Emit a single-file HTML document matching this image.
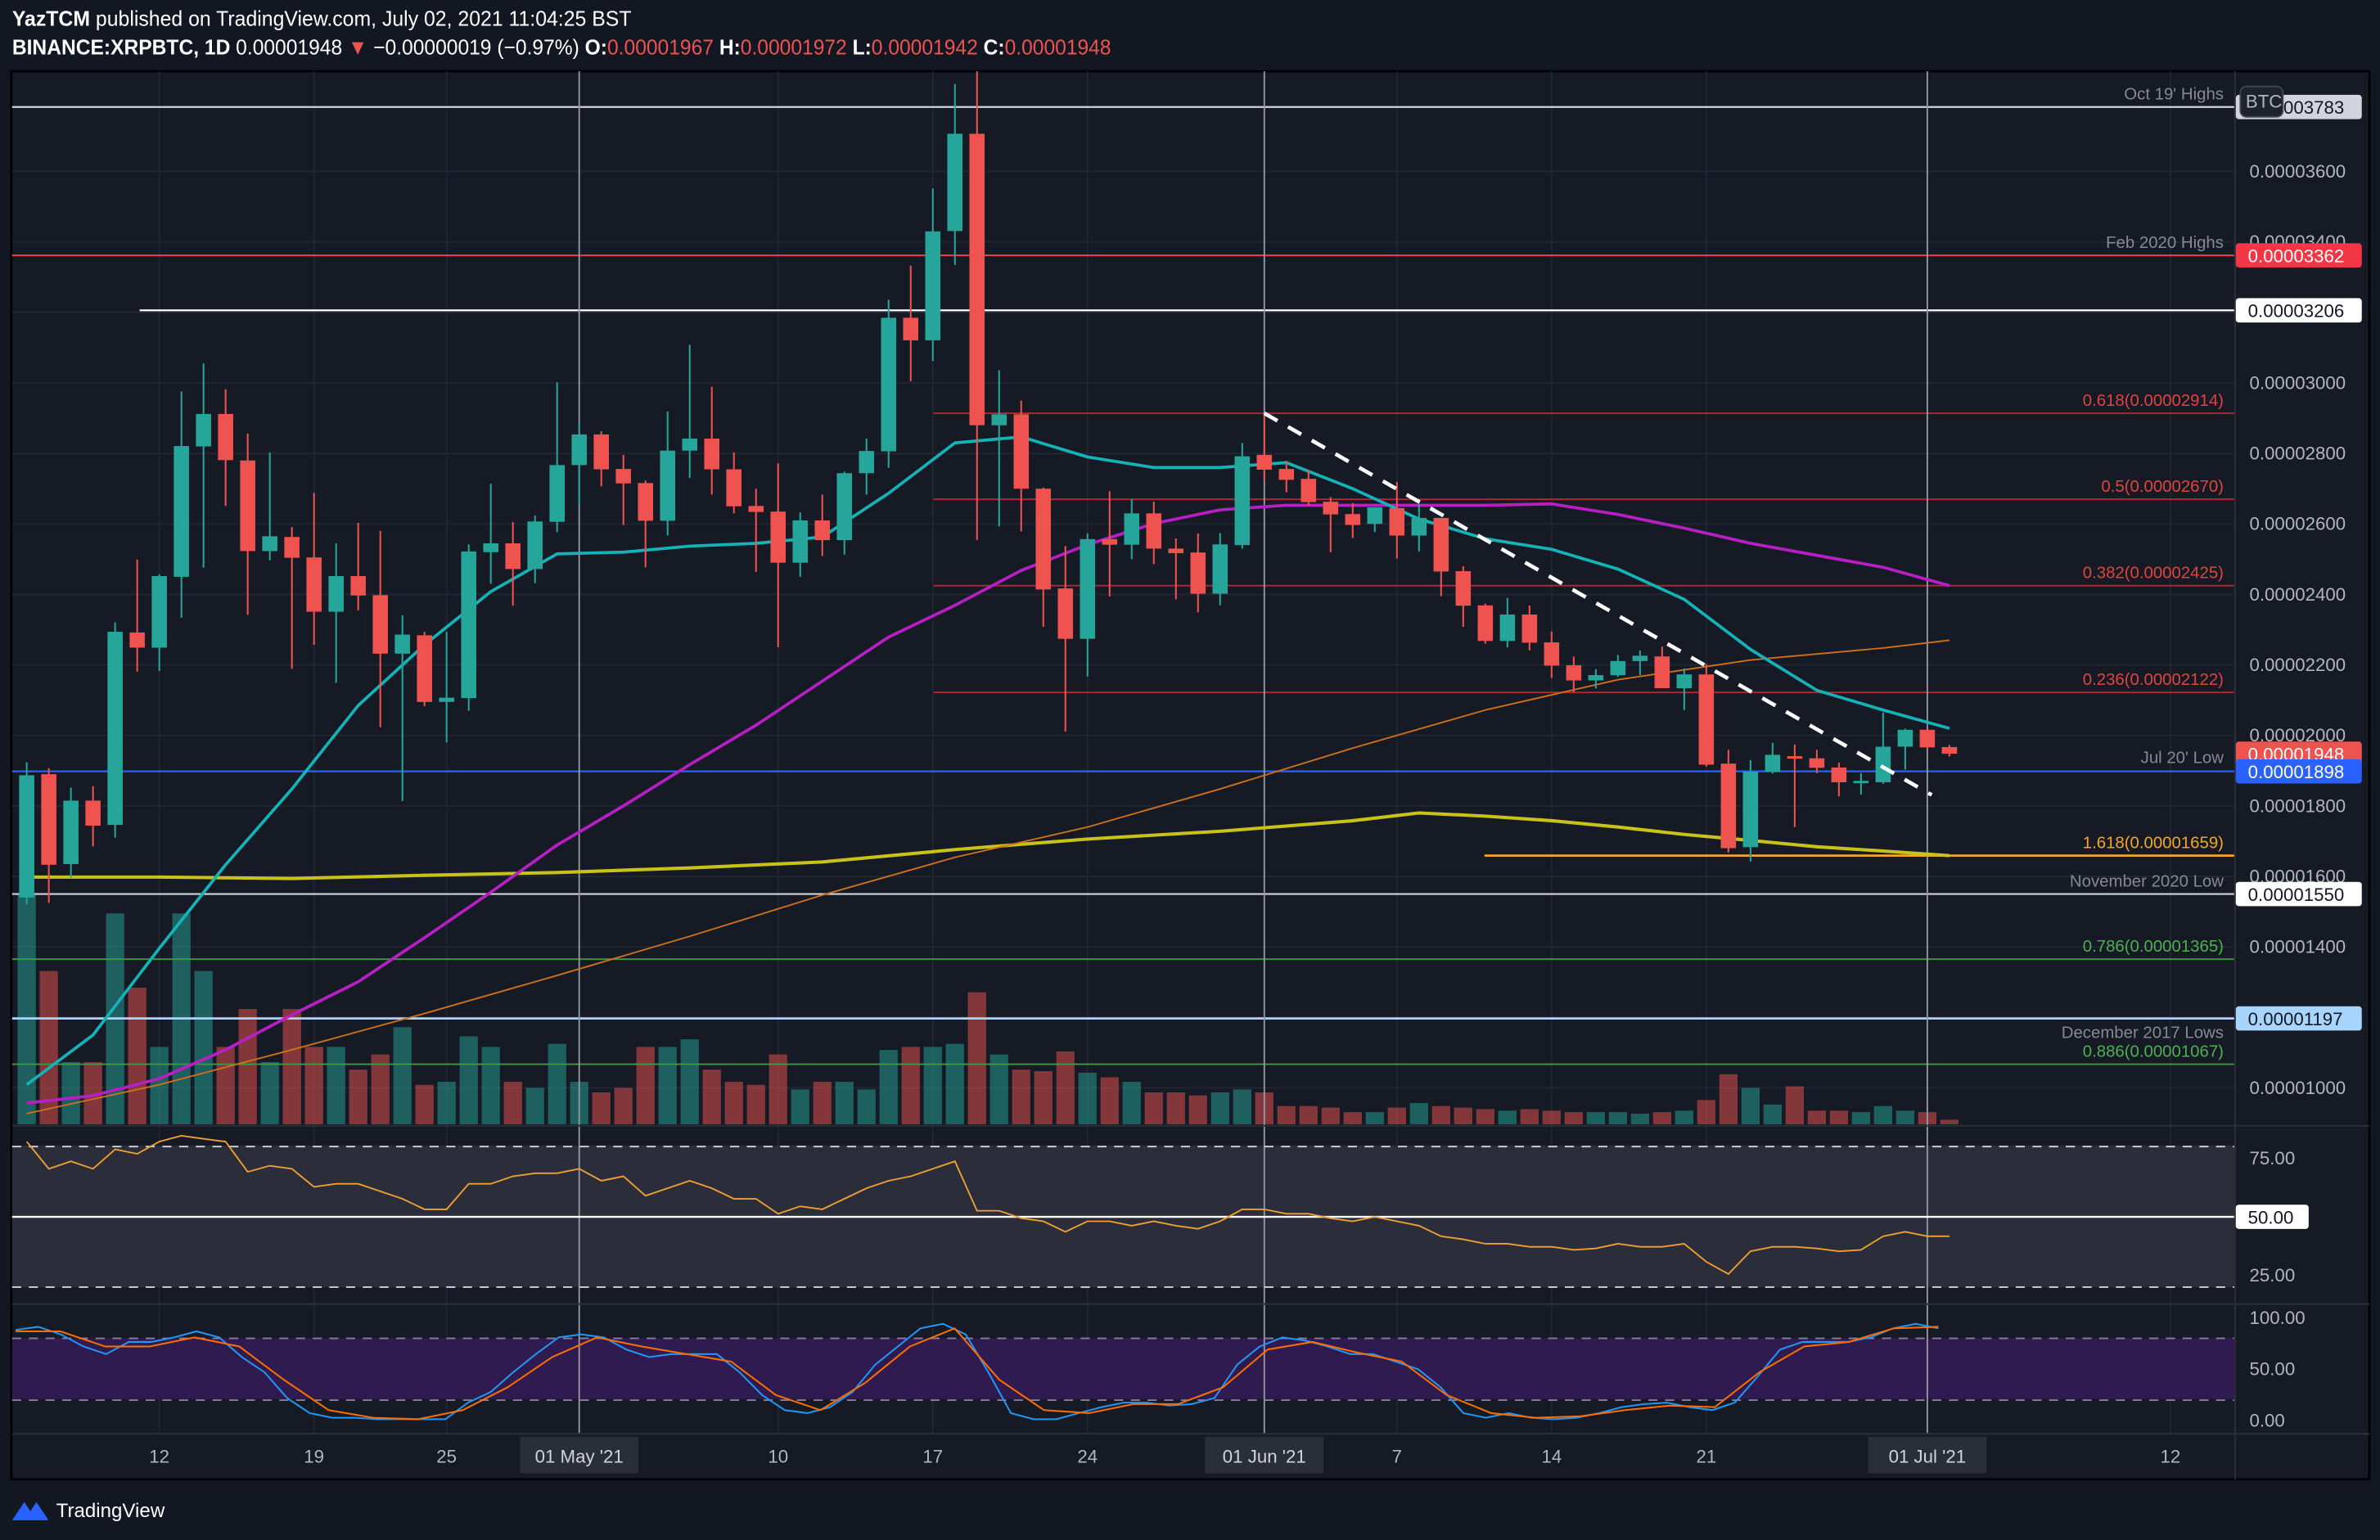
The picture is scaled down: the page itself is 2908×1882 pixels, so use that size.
<!DOCTYPE html>
<html><head><meta charset="utf-8"><title>XRPBTC 1D chart</title>
<style>
html,body{margin:0;padding:0;background:#131722;}
svg{display:block;}
text{font-family:"Liberation Sans",sans-serif;}
</style></head>
<body>
<svg id="chart" width="2908" height="1882" viewBox="0 0 1568 1015" preserveAspectRatio="none" xmlns="http://www.w3.org/2000/svg">
<rect x="0" y="0" width="1568" height="1015" fill="#131722"/>
<text x="8" y="17" font-size="14" fill="#ffffff" textLength="408" lengthAdjust="spacingAndGlyphs"><tspan font-weight="bold">YazTCM</tspan> published on TradingView.com, July 02, 2021 11:04:25 BST</text>
<text x="8" y="36" font-size="14" fill="#ffffff" textLength="724" lengthAdjust="spacingAndGlyphs"><tspan font-weight="bold">BINANCE:XRPBTC, 1D</tspan> 0.00001948 <tspan fill="#ef5350">▼</tspan> −0.00000019 (−0.97%) <tspan font-weight="bold">O:</tspan><tspan fill="#ef5350">0.00001967</tspan> <tspan font-weight="bold">H:</tspan><tspan fill="#ef5350">0.00001972</tspan> <tspan font-weight="bold">L:</tspan><tspan fill="#ef5350">0.00001942</tspan> <tspan font-weight="bold">C:</tspan><tspan fill="#ef5350">0.00001948</tspan></text>
<rect x="7.5" y="47" width="1553.5" height="928" fill="#161a25" stroke="#000" stroke-width="1.5"/>
<g id="grid"></g>
<rect x="8" y="755" width="1464" height="93.5" fill="#2b2e3a"/>
<rect x="8" y="882" width="1464" height="40" fill="#2f1b4f"/>
<g id="main"></g>
<g id="ind"></g>
<g id="axes"></g>
<g>
<path d="M8 1002 L16 990 L20 996 L24 990 L32 1002 Z" fill="#2962ff"/>
<text x="37" y="1000" font-size="13" fill="#ffffff">TradingView</text>
</g>
</svg>
<script>
// ---- data (prices in units of 1e-6 BTC) ----
const dayLabels = ["Apr 6","Apr 7","Apr 8","Apr 9","Apr 10","Apr 11","Apr 12","Apr 13","Apr 14","Apr 15","Apr 16","Apr 17","Apr 18","Apr 19","Apr 20","Apr 21","Apr 22","Apr 23","Apr 24","Apr 25","Apr 26","Apr 27","Apr 28","Apr 29","Apr 30","May 1","May 2","May 3","May 4","May 5","May 6","May 7","May 8","May 9","May 10","May 11","May 12","May 13","May 14","May 15","May 16","May 17","May 18","May 19","May 20","May 21","May 22","May 23","May 24","May 25","May 26","May 27","May 28","May 29","May 30","May 31","Jun 1","Jun 2","Jun 3","Jun 4","Jun 5","Jun 6","Jun 7","Jun 8","Jun 9","Jun 10","Jun 11","Jun 12","Jun 13","Jun 14","Jun 15","Jun 16","Jun 17","Jun 18","Jun 19","Jun 20","Jun 21","Jun 22","Jun 23","Jun 24","Jun 25","Jun 26","Jun 27","Jun 28","Jun 29","Jun 30","Jul 1","Jul 2"];
const opens = [15.4,18.9,16.35,18.15,17.46,22.92,22.49,24.5,28.2,29.12,27.8,25.23,25.63,25.05,23.51,24.52,23.98,22.32,22.84,20.95,21.06,25.2,25.45,24.72,26.06,27.67,28.54,27.56,27.16,26.09,28.08,28.42,27.55,26.51,26.35,24.9,26.1,25.54,27.44,28.06,31.85,31.21,34.31,37.07,28.8,29.11,27.0,24.17,22.74,25.57,25.41,26.3,25.3,25.19,24.02,25.4,27.96,27.56,27.28,26.63,26.28,26.0,26.45,25.67,26.17,24.66,23.69,22.68,23.43,22.64,21.99,21.56,21.71,22.11,22.24,21.34,21.73,19.2,16.83,18.97,19.41,19.35,19.09,18.67,18.67,19.68,20.16,19.67];
const highs = [19.24,19.07,18.52,18.56,23.21,24.99,24.57,29.76,30.55,29.82,28.56,28.03,25.91,26.88,25.45,26.03,25.8,23.41,22.94,22.94,25.42,27.14,26.05,26.24,30.02,28.88,28.63,27.96,27.23,29.19,31.08,29.89,28.03,27.0,27.72,26.33,26.83,27.48,28.42,32.36,33.33,35.52,38.48,40.0,30.36,29.5,27.03,25.37,25.73,26.93,26.7,26.63,25.59,25.73,25.74,28.3,29.14,27.79,27.53,26.76,26.59,26.47,27.19,26.56,26.17,24.8,23.74,23.9,23.69,22.95,22.24,21.88,22.28,22.41,22.52,21.9,22.02,19.59,19.3,19.79,19.74,19.59,19.23,18.93,20.65,20.19,20.16,19.73];
const lows = [15.2,15.25,15.96,16.85,17.1,21.81,21.83,23.34,24.76,26.51,23.42,24.97,21.89,22.57,21.49,23.55,20.23,18.14,20.83,19.8,20.7,24.3,23.68,24.32,25.77,26.55,27.07,25.97,24.77,25.67,27.3,26.83,26.3,24.64,22.5,24.5,25.09,25.13,26.83,27.59,30.05,30.62,33.35,25.54,25.93,25.79,23.08,20.11,21.67,23.94,25.0,24.86,23.86,23.49,23.69,25.3,27.22,26.9,26.52,25.2,25.6,25.77,25.02,25.22,23.95,23.08,22.6,22.5,22.41,21.63,21.23,21.33,21.66,21.71,21.34,20.72,19.12,16.68,16.42,18.92,17.4,18.93,18.27,18.32,18.63,19.03,19.61,19.4];
const closes = [18.87,16.33,18.15,17.44,22.94,22.49,24.52,28.21,29.12,27.81,25.23,25.65,25.04,23.51,24.52,23.97,22.32,22.86,20.95,21.07,25.22,25.45,24.72,26.07,27.67,28.54,27.55,27.15,26.09,28.08,28.42,27.55,26.5,26.34,24.9,26.1,25.54,27.44,28.07,31.85,31.21,34.3,37.07,28.8,29.11,27.0,24.14,22.74,25.57,25.41,26.3,25.3,25.17,24.02,25.42,27.92,27.54,27.25,26.62,26.27,25.97,26.47,25.67,26.17,24.65,23.68,22.68,23.43,22.63,21.98,21.56,21.71,22.11,22.26,21.34,21.73,19.17,16.8,18.97,19.45,19.34,19.08,18.67,18.71,19.68,20.16,19.66,19.48];
const volumes = [151,101,41,41,139,90,51,139,101,51,76,41,76,51,51,36,46,64,26,28,58,51,28,24,53,28,21,24,51,51,56,36,28,26,46,23,28,28,23,49,51,51,53,87,46,36,35,48,34,31,28,21,21,19,21,23,21,12,12,11,8,8,11,14,12,11,10,9,10,9,8,8,8,7,8,9,16,33,24,13,25,9,9,8,12,9,8,3];
// moving averages sampled every few days (day index, value)
const ma20Days = [0,3,6,9,12,15,18,21,24,27,30,33,36,39,42,45,48,51,54,57,60,63,66,69,72,75,78,81,84,87];
const ma20 = [10.09,11.5,13.96,16.33,18.48,20.85,22.57,24.08,25.15,25.2,25.37,25.45,25.63,26.87,28.3,28.47,27.9,27.6,27.6,27.74,27.0,26.14,25.58,25.28,24.72,23.86,22.44,21.28,20.72,20.2];
const ma50 = [9.57,9.78,10.26,11.08,12.07,13.01,14.26,15.55,16.89,18.0,19.17,20.29,21.54,22.79,23.69,24.68,25.41,26.01,26.4,26.53,26.53,26.53,26.53,26.57,26.27,25.88,25.45,25.11,24.77,24.25];
const ma100Days = [0,6,12,18,24,30,36,42,48,54,60,66,72,78,84,87];
const ma100 = [9.27,10.09,11.08,12.11,13.19,14.3,15.47,16.54,17.4,18.48,19.64,20.72,21.58,22.14,22.48,22.7];
const ma200Days = [0,6,12,18,24,30,36,42,48,54,60,63,66,69,72,75,78,81,84,87];
const ma200 = [15.98,15.98,15.94,16.03,16.11,16.24,16.41,16.76,17.06,17.28,17.58,17.8,17.71,17.58,17.4,17.19,17.02,16.84,16.72,16.59];
const rsi = [82.1,70.5,73.7,70.5,78.8,76.9,82.1,84.6,83.3,82.1,69.2,71.8,70.5,62.8,64.1,64.1,60.9,57.7,53.2,53.2,64.1,64.1,67.3,68.6,68.6,70.5,65.4,67.3,59,62.2,65.4,62.2,57.7,57.7,51.3,54.5,53.2,57.7,62.2,65.4,67.3,70.5,73.7,52.6,52.6,49.4,48.1,43.6,48.1,48.1,46.2,48.1,46.2,44.9,48.1,53.2,53.2,51.3,51.3,49.4,48.1,50,48.1,46.2,41.7,40.4,38.5,38.5,37.2,37.2,35.9,36.5,38.5,37.2,37.2,38.5,30.8,25.6,35.3,37.2,37.2,36.5,35.3,35.9,41.7,43.6,41.7,41.7];
const stochK = [88.2,91.2,83.8,72.1,64.7,76.5,76.5,80.9,86.8,80.9,61.8,47.1,22.1,7.4,2.9,2.9,1.5,1.5,1.5,1.5,17.6,27.9,47.1,64.7,80.9,83.8,80.9,69.1,61.8,64.7,64.7,64.7,47.1,25,10.3,7.4,13.2,27.9,54.4,72.1,89.7,94.1,83.8,47.1,7.4,1.5,1.5,7.4,13.2,17.6,17.6,14.7,16.2,22.1,54.4,72.1,80.9,77.9,72.1,64.7,64.7,57.4,50,32.4,7.4,2.9,7.4,2.9,1.5,2.9,7.4,13.2,16.2,17.6,13.2,10.3,17.6,42.6,69.1,76.5,76.5,76.5,80.9,89.7,94.1,89.7];
const stochD = [86.8,86.8,72.1,72.1,80.9,72.1,39.7,10.3,2.9,1.5,10.3,32.4,61.8,80.9,72.1,64.7,57.4,25,10.3,36.8,72.1,89.7,39.7,10.3,7.4,16.2,16.2,32.4,69.1,76.5,66.2,57.4,25,7.4,2.9,4.4,10.3,14.7,13.2,47.1,72.1,76.5,89.7,91.2];
const priceTicks = [36,34,32,30,28,26,24,22,20,18,16,14,12,10];
const rsiTicks = [75,50,25];
const stochTicks = [100,50,0];
const timeTickDays = [6,13,19,25,34,41,48,56,62,69,76,86,97];
const timeTickLabels = ["12","19","25","01 May '21","10","17","24","01 Jun '21","7","14","21","01 Jul '21","12"];

// ---- axis functions ----
const xDay = i => 17.6 + 14.56 * i;
const yP = p => 717 - (p - 10) * 23.23;
const yVol = v => 741 - v;
const yRsi = v => 802 - (v - 50) * 1.544;
const yStoch = v => 936.4 - v * 0.679;
const fmt = p => "0.0000" + Math.round(p * 100).toString().padStart(4, "0");
const NS = "http://www.w3.org/2000/svg";
function el(tag, parent, attrs) { const e = document.createElementNS(NS, tag); for (const k in attrs) e.setAttribute(k, attrs[k]); parent.appendChild(e); return e; }
const grid = document.getElementById("grid"), main = document.getElementById("main"), ind = document.getElementById("ind"), axes = document.getElementById("axes");

// grid
priceTicks.forEach(p => { const g = el("line", grid, {x1: 8, x2: 1472, y1: yP(p), y2: yP(p), stroke: "#222632", "stroke-width": 1});
  
   });
timeTickDays.forEach(d => { const g = el("line", grid, {x1: xDay(d), x2: xDay(d), y1: 47, y2: 945, stroke: "#222632", "stroke-width": 1});
  
   });

// volume
volumes.forEach((v, i) => { const up = closes[i] >= opens[i];
  const r = el("rect", main, {x: xDay(i) - 6, y: yVol(v), width: 12, height: v, fill: up ? "rgba(38,166,154,0.5)" : "rgba(239,83,80,0.5)"});
  
   });

// horizontal levels
function hline(p, x1, color, w, name, dash) { const l = el("line", main, {x1: x1, x2: 1472, y1: yP(p), y2: yP(p), stroke: color, "stroke-width": w});
  if (dash) l.setAttribute("stroke-dasharray", dash);
  
   return l; }
hline(37.83, 8, "#d1d4dc", 1.2, "oct-19-highs-line");
hline(33.62, 8, "#f23645", 1.2, "feb-2020-highs-line");
hline(32.06, 92, "#ffffff", 1.2, "resistance-line-3206");
hline(29.14, 615, "#b22833", 1, "fib-0618-line");
hline(26.70, 615, "#b22833", 1, "fib-05-line");
hline(24.25, 615, "#b22833", 1, "fib-0382-line");
hline(21.22, 615, "#b22833", 1, "fib-0236-line");
hline(18.98, 8, "#2962ff", 1.2, "jul-20-low-line");
hline(16.59, 978, "#f5a623", 1.5, "fib-1618-line");
hline(15.50, 8, "#d1d4dc", 1.2, "november-2020-low-line");
hline(13.65, 8, "#3e9a41", 1, "fib-0786-line");
hline(11.97, 8, "#a8d5ff", 1.5, "december-2017-lows-line");
hline(10.67, 8, "#3e9a41", 1, "fib-0886-line");

// vertical month markers
[25, 56, 86].forEach(d => { const l = el("line", main, {x1: xDay(d), x2: xDay(d), y1: 47, y2: 945, stroke: "#9598a1", "stroke-width": 1});
  
   });

// moving averages
function maLine(days, vals, color, w, name) { const pts = days.map((d, k) => xDay(d) + "," + yP(vals[k])).join(" ");
  const pl = el("polyline", main, {points: pts, fill: "none", stroke: color, "stroke-width": w, "stroke-linejoin": "round"});
  
   }
maLine(ma200Days, ma200, "#c8c21a", 2.2, "ma200-line");
maLine(ma100Days, ma100, "#d0701a", 1, "ma100-line");
maLine(ma20Days, ma50, "#b71fc4", 2, "ma50-line");
maLine(ma20Days, ma20, "#14b3b8", 2, "ma20-line");

// candles
closes.forEach((c, i) => { const o = opens[i], up = c >= o, col = up ? "#26a69a" : "#ef5350", x = xDay(i);
  const w = el("line", main, {x1: x, x2: x, y1: Math.max(47, yP(highs[i])), y2: yP(lows[i]), stroke: col, "stroke-width": 1.1});
  
  
  const top = yP(Math.max(o, c)), h = Math.max(1.5, Math.abs(yP(o) - yP(c)));
  const b = el("rect", main, {x: x - 5, y: top, width: 10, height: h, fill: col});
  
   });

// trendline
const tl = el("line", main, {x1: xDay(56), y1: yP(29.14), x2: xDay(86.2), y2: yP(18.31), stroke: "#ffffff", "stroke-width": 2.5, "stroke-dasharray": "10 8"});



// line labels
function lab(txt, p, col, name) { const t = el("text", main, {x: 1465, y: yP(p) - 5, "font-size": 11, fill: col, "text-anchor": "end"}); t.textContent = txt;
  
   }
lab("Oct 19' Highs", 37.83, "#868993", "oct-19-highs-label");
lab("Feb 2020 Highs", 33.62, "#868993", "feb-2020-highs-label");
lab("0.618(0.00002914)", 29.14, "#e0443e", "fib-0618-label");
lab("0.5(0.00002670)", 26.70, "#e0443e", "fib-05-label");
lab("0.382(0.00002425)", 24.25, "#e0443e", "fib-0382-label");
lab("0.236(0.00002122)", 21.22, "#e0443e", "fib-0236-label");
lab("Jul 20' Low", 19.0, "#868993", "jul-20-low-label");
lab("1.618(0.00001659)", 16.59, "#f5a623", "fib-1618-label");
lab("November 2020 Low", 15.50, "#868993", "november-2020-low-label");
lab("0.786(0.00001365)", 13.65, "#4caf50", "fib-0786-label");
lab("December 2017 Lows", 11.2, "#868993", "december-2017-lows-label");
lab("0.886(0.00001067)", 10.67, "#4caf50", "fib-0886-label");

// RSI pane
[80, 20].forEach(v => { const l = el("line", ind, {x1: 8, x2: 1472, y1: yRsi(v), y2: yRsi(v), stroke: "#d1d4dc", "stroke-width": 1, "stroke-dasharray": "6 5"});
  
   });
const r50 = el("line", ind, {x1: 8, x2: 1472, y1: yRsi(50), y2: yRsi(50), stroke: "#ffffff", "stroke-width": 1.3});


const rsiLine = el("polyline", ind, {points: rsi.map((v, i) => xDay(i) + "," + yRsi(v)).join(" "), fill: "none", stroke: "#f0a030", "stroke-width": 1});



// Stoch RSI pane
[80, 20].forEach(v => { const l = el("line", ind, {x1: 8, x2: 1472, y1: yStoch(v), y2: yStoch(v), stroke: "#8a7ba8", "stroke-width": 1, "stroke-dasharray": "6 5"});
  
   });
const kDay = k => k * 87 / (stochK.length - 1) - 0.5;
const dDay = k => k * 87 / (stochD.length - 1) - 0.5;
const kl = el("polyline", ind, {points: stochK.map((v, k) => xDay(kDay(k)) + "," + yStoch(v)).join(" "), fill: "none", stroke: "#2196f3", "stroke-width": 1.1});


const dl = el("polyline", ind, {points: stochD.map((v, k) => xDay(dDay(k)) + "," + yStoch(v)).join(" "), fill: "none", stroke: "#ff6d00", "stroke-width": 1.1});



// pane separators & axis borders
[[8, 742, 1561, 742], [8, 859.5, 1561, 859.5], [8, 945, 1561, 945], [1472.5, 47, 1472.5, 975]].forEach(s => { const l = el("line", axes, {x1: s[0], y1: s[1], x2: s[2], y2: s[3], stroke: "#2a2e39", "stroke-width": 1.2});
  
   });

// price axis labels
priceTicks.forEach(p => { const t = el("text", axes, {x: 1482, y: yP(p) + 4, "font-size": 12, fill: "#b2b5be"}); t.textContent = fmt(p);
  
   });
rsiTicks.forEach(v => { const t = el("text", axes, {x: 1482, y: yRsi(v) + 4, "font-size": 12, fill: "#b2b5be"}); t.textContent = v.toFixed(2);
  
   });
stochTicks.forEach(v => { const t = el("text", axes, {x: 1482, y: yStoch(v) + 4, "font-size": 12, fill: "#b2b5be"}); t.textContent = v.toFixed(2);
  
   });

// price tags
function tag(p, txt, bg, fg, name, w) { const y = yP(p);
  const r = el("rect", axes, {x: 1473, y: y - 8, width: w || 83, height: 16, rx: 2, fill: bg});
  
  
  const t = el("text", axes, {x: 1481, y: y + 4.5, "font-size": 12, fill: fg}); t.textContent = txt;
  
   }
tag(37.83, "0.00003783", "#d1d4dc", "#131722", "oct-19-highs-tag");
tag(33.62, "0.00003362", "#f23645", "#ffffff", "feb-2020-highs-tag");
tag(32.06, "0.00003206", "#ffffff", "#131722", "level-3206-tag");
tag(19.48, "0.00001948", "#ef5350", "#ffffff", "last-price-tag");
tag(18.98, "0.00001898", "#2962ff", "#ffffff", "jul-20-low-tag");
tag(15.50, "0.00001550", "#ffffff", "#131722", "november-2020-low-tag");
tag(11.97, "0.00001197", "#a8d5ff", "#131722", "december-2017-lows-tag");
(function () { const y = yRsi(50);
  const r = el("rect", axes, {x: 1473, y: y - 8, width: 48, height: 16, rx: 2, fill: "#ffffff"});
  
  
  const t = el("text", axes, {x: 1481, y: y + 4.5, "font-size": 12, fill: "#131722"}); t.textContent = "50.00";
  
   })();
// BTC currency badge
const bb = el("rect", axes, {x: 1476, y: 57, width: 28, height: 20, rx: 4, fill: "#1e222d", stroke: "#434651", "stroke-width": 1});


const bt = el("text", axes, {x: 1479.5, y: 71, "font-size": 12, fill: "#b2b5be"}); bt.textContent = "BTC";



// time axis labels
timeTickDays.forEach((d, k) => { const lbl = timeTickLabels[k], x = xDay(d), boxed = lbl.length > 3;
  if (boxed) { const r = el("rect", axes, {x: x - 39, y: 947, width: 78, height: 24, fill: "#2a2e39"});
    
     }
  const t = el("text", axes, {x: x, y: 964, "font-size": 12, fill: boxed ? "#d1d4dc" : "#b2b5be", "text-anchor": "middle"}); t.textContent = lbl;
  
   });
</script>
</body></html>
